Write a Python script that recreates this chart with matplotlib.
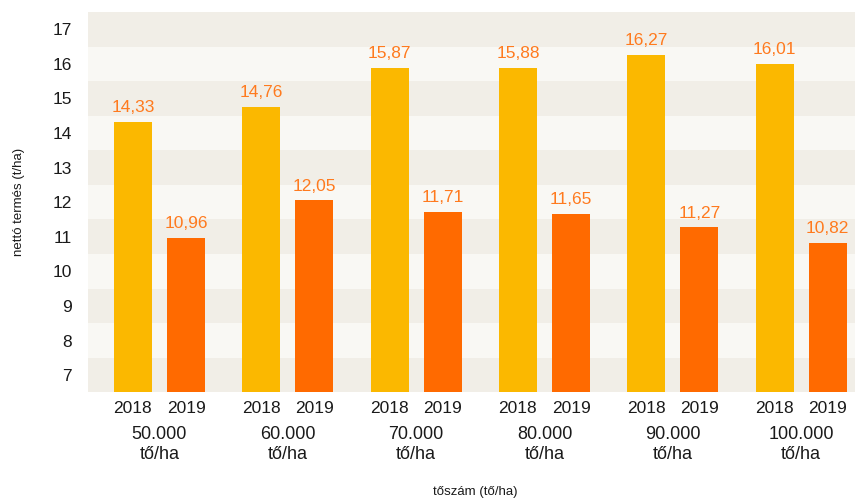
import numpy as np
import matplotlib.pyplot as plt

# adatok a képről
groups = ["50.000\ntő/ha", "60.000\ntő/ha", "70.000\ntő/ha",
          "80.000\ntő/ha", "90.000\ntő/ha", "100.000\ntő/ha"]
years = ["2018", "2019"]
yield_2018 = [14.33, 14.76, 15.87, 15.88, 16.27, 16.01]
yield_2019 = [10.96, 12.05, 11.71, 11.65, 11.27, 10.82]
y_ticks = [7, 8, 9, 10, 11, 12, 13, 14, 15, 16, 17]

# ================= STÍLUS =================
C_2018 = "#FBB800"
C_2019 = "#FF6A00"
C_LABEL = "#FF7A1E"
BAND_DARK = "#F1EEE7"
BAND_LIGHT = "#F9F8F4"
TXT = "#1a1a1a"
plt.rcParams['font.family'] = ['Liberation Sans', 'DejaVu Sans']
# ==========================================

fig = plt.figure(figsize=(8.55, 4.99), dpi=100)
ax = fig.add_axes([88 / 855, 1 - 392.4 / 499, 1 - 88 / 855, 380.4 / 499])

x = np.arange(len(groups))
off = 0.207
w = 0.296

# sávos háttér
for t in y_ticks:
    col = BAND_DARK if (17 - t) % 2 == 0 else BAND_LIGHT
    ax.axhspan(t - 0.5, t + 0.5, color=col, lw=0, zorder=0)

b1 = ax.bar(x - off, yield_2018, width=w, color=C_2018, zorder=2)
b2 = ax.bar(x + off, yield_2019, width=w, color=C_2019, zorder=2)

for bars, vals in ((b1, yield_2018), (b2, yield_2019)):
    for r, v in zip(bars, vals):
        ax.annotate(f"{v:.2f}".replace(".", ","),
                    (r.get_x() + r.get_width() / 2, v),
                    xytext=(0, 5), textcoords="offset points",
                    ha="center", va="bottom", fontsize=12.5, color=C_LABEL)

ax.set_ylim(6.5, 17.5)
ax.set_xlim(-0.557, 5.42)
ax.set_yticks(y_ticks)
ax.set_yticklabels([str(t) for t in y_ticks], fontsize=12.5, color=TXT)

pos = np.concatenate([x - off, x + off])
labs = [years[0]] * len(x) + [years[1]] * len(x)
ax.set_xticks(pos)
ax.set_xticklabels(labs, fontsize=12.5, color=TXT)
ax.tick_params(axis="x", length=0, pad=6)
ax.tick_params(axis="y", length=0, pad=11.5)

for xi, g in zip(x, groups):
    ax.text(xi, -0.088, g, transform=ax.get_xaxis_transform(),
            ha="center", va="top", fontsize=13, color=TXT, linespacing=1.25)

for s in ax.spines.values():
    s.set_visible(False)

ax.set_ylabel("nettó termés (t/ha)", fontsize=9.5, color=TXT)
ax.yaxis.set_label_coords(-63 / 767, 0.5)
fig.text(475 / 855, 1 - 492 / 499, "tőszám (tő/ha)", ha="center", va="center",
         fontsize=9.5, color=TXT)

fig.savefig("out.png", dpi=100)
